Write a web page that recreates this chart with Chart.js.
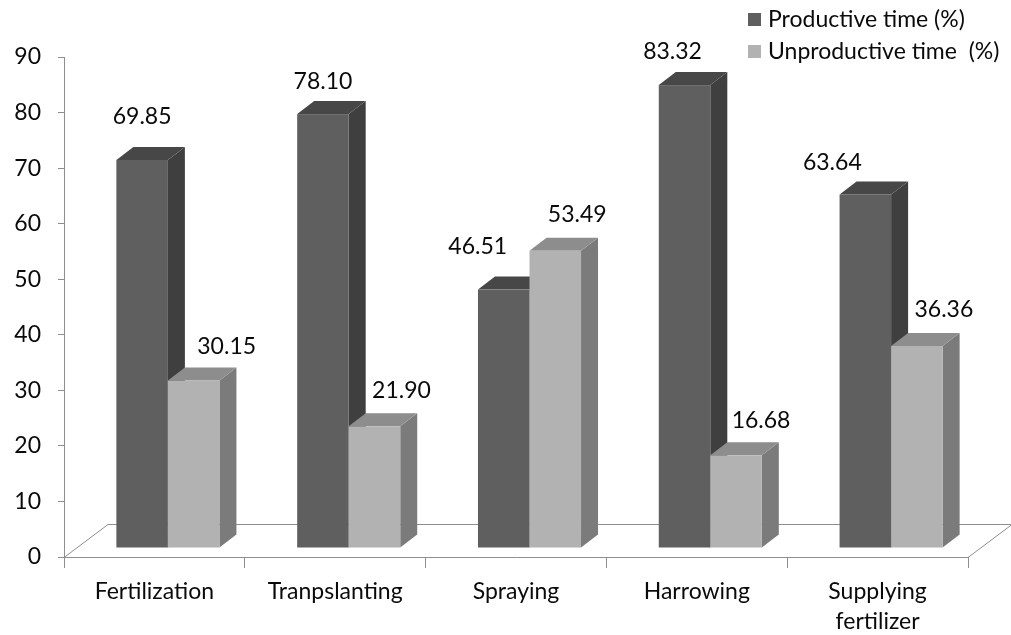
<!DOCTYPE html>
<html>
<head>
<meta charset="utf-8">
<script src="https://cdn.jsdelivr.net/npm/chart.js@4.4.1/dist/chart.umd.min.js"></script>
<style>
  html, body { margin: 0; padding: 0; background: #ffffff; }
  #wrap { width: 1011px; height: 635px; }
</style>
</head>
<body>
<div id="wrap"><canvas id="c" width="1011" height="635"></canvas></div>
<script>
// Share of working time per field operation
const categories = ['Fertilization', 'Tranpslanting', 'Spraying', 'Harrowing', ['Supplying', 'fertilizer']];
const productive = [69.85, 78.10, 46.51, 83.32, 63.64];
const unproductive = [30.15, 21.90, 53.49, 16.68, 36.36];
const seriesNames = ['Productive time (%)', 'Unproductive time  (%)'];
const yMin = 0, yMax = 90, yStep = 10;

// Look of the 3-D boxes
const FONT = 'Lato, "Open Sans", sans-serif';
const FONT_SIZE = 23;
const TEXT = '#0a0a0a';
const FRONT = { x: 13.5, y: -9 };   // bar front plane, relative to the axis plane
const DEPTH = { x: 17, y: -13 };    // bar depth
const FLOOR = { x: 44, y: -33 };    // floor depth
const AXIS_GREY = '#8e8e8e';
// value-label placement relative to the top of each box (per series, per category)
const labelNudge = [
  [[0, -43], [0, -33], [-26, -43], [-12, -34], [-33, -32]],
  [[33, -34], [27, -36], [22, -36], [25, -35], [27, -36]]
];

function poly(ctx, pts, color) {
  ctx.beginPath();
  ctx.moveTo(pts[0][0], pts[0][1]);
  for (let k = 1; k < pts.length; k++) ctx.lineTo(pts[k][0], pts[k][1]);
  ctx.closePath();
  ctx.fillStyle = color;
  ctx.fill();
}

const bars3d = {
  id: 'bars3d',
  beforeDatasetsDraw(chart) {
    const ctx = chart.ctx, a = chart.chartArea;
    ctx.save();
    // floor outline
    ctx.strokeStyle = AXIS_GREY;
    ctx.lineWidth = 1;
    ctx.beginPath();
    ctx.moveTo(a.left, a.bottom + 0.5);
    ctx.lineTo(a.left + FLOOR.x, a.bottom + FLOOR.y + 0.5);
    ctx.lineTo(a.right + FLOOR.x, a.bottom + FLOOR.y + 0.5);
    ctx.lineTo(a.right, a.bottom + 0.5);
    ctx.stroke();

    const sets = chart.data.datasets;
    const metas = sets.map((d, i) => chart.getDatasetMeta(i));
    // boxes, drawn left to right so neighbours overlap correctly
    for (let j = 0; j < chart.data.labels.length; j++) {
      metas.forEach((meta, i) => {
        const el = meta.data[j].getProps(['x', 'y', 'base', 'width'], true);
        const ds = sets[i];
        const x0 = el.x - el.width / 2 + FRONT.x, x1 = el.x + el.width / 2 + FRONT.x;
        const yt = el.y + FRONT.y, yb = el.base + FRONT.y;
        poly(ctx, [[x1, yb], [x1 + DEPTH.x, yb + DEPTH.y], [x1 + DEPTH.x, yt + DEPTH.y], [x1, yt]], ds.sideColor);
        poly(ctx, [[x0, yt], [x0 + DEPTH.x, yt + DEPTH.y], [x1 + DEPTH.x, yt + DEPTH.y], [x1, yt]], ds.topColor);
        ctx.fillStyle = ds.backgroundColor;
        ctx.fillRect(x0, yt, x1 - x0, yb - yt);
      });
    }
    // value labels
    ctx.font = FONT_SIZE + 'px ' + FONT;
    ctx.fillStyle = TEXT;
    ctx.textAlign = 'center';
    ctx.textBaseline = 'middle';
    metas.forEach((meta, i) => {
      meta.data.forEach((bar, j) => {
        const el = bar.getProps(['x', 'y'], true);
        const n = labelNudge[i][j];
        const v = sets[i].data[j];
        ctx.fillText(v.toFixed(2), el.x + FRONT.x + n[0], el.y + FRONT.y + n[1]);
      });
    });
    ctx.restore();
    return false;
  },
  afterDraw(chart) {
    // legend in the upper right corner
    const ctx = chart.ctx;
    ctx.save();
    ctx.font = FONT_SIZE + 'px ' + FONT;
    ctx.textAlign = 'left';
    ctx.textBaseline = 'middle';
    chart.data.datasets.forEach((ds, i) => {
      const cy = 20 + i * 32;
      ctx.fillStyle = ds.backgroundColor;
      ctx.fillRect(748, cy - 7, 13, 13);
      ctx.fillStyle = TEXT;
      ctx.fillText(ds.label, 768, cy);
    });
    ctx.restore();
  }
};

new Chart(document.getElementById('c'), {
  type: 'bar',
  data: {
    labels: categories,
    datasets: [
      { label: seriesNames[0], data: productive, backgroundColor: '#5f5f5f', sideColor: '#3f3f3f', topColor: '#474747' },
      { label: seriesNames[1], data: unproductive, backgroundColor: '#b2b2b2', sideColor: '#7b7b7b', topColor: '#8d8d8d' }
    ]
  },
  options: {
    responsive: false,
    animation: false,
    events: [],
    layout: { padding: { left: 0, top: 57, right: 43, bottom: 0 } },
    datasets: { bar: { categoryPercentage: 0.57, barPercentage: 1.0 } },
    plugins: { legend: { display: false }, tooltip: { enabled: false } },
    scales: {
      x: {
        grid: { offset: true, drawOnChartArea: false, drawTicks: true, tickLength: 11, color: AXIS_GREY },
        border: { color: AXIS_GREY },
        ticks: { color: TEXT, font: { family: FONT, size: FONT_SIZE, lineHeight: 1.3 }, padding: 9, maxRotation: 0, autoSkip: false },
        afterFit(s) { s.height = 78; }
      },
      y: {
        min: yMin, max: yMax,
        grid: { drawOnChartArea: false, drawTicks: true, tickLength: 6, color: AXIS_GREY },
        border: { color: AXIS_GREY },
        ticks: { stepSize: yStep, color: TEXT, font: { family: FONT, size: FONT_SIZE }, padding: 17 },
        afterFit(s) { s.width = 64; }
      }
    }
  },
  plugins: [bars3d]
});
</script>
</body>
</html>
